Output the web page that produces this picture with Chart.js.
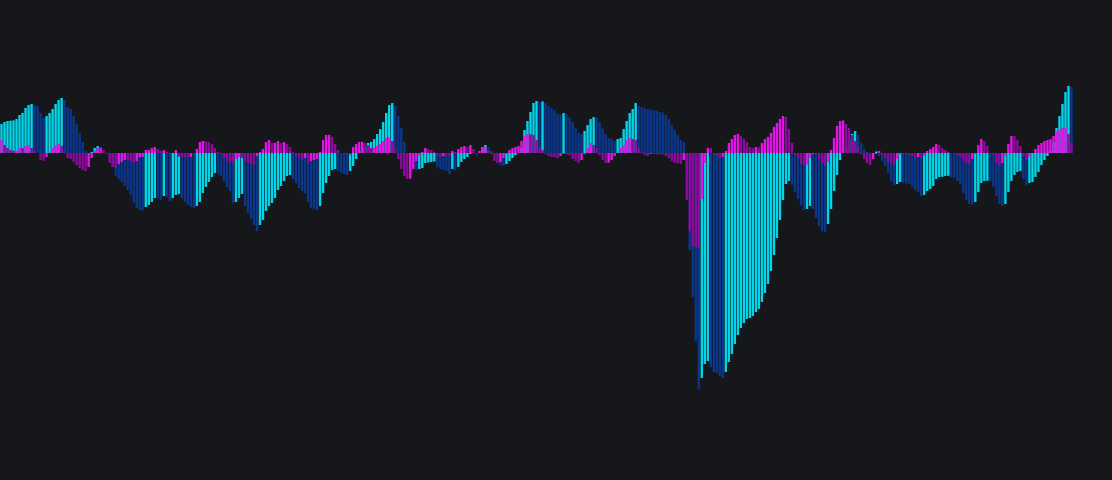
<!DOCTYPE html>
<html><head><meta charset="utf-8">
<script src="https://cdn.jsdelivr.net/npm/chart.js@4.4.1/dist/chart.umd.min.js"></script>
<style>html,body{margin:0;padding:0;background:#15171b;overflow:hidden}#wrap{width:1112px;height:480px;position:relative}</style>
</head><body><div id="wrap"><canvas id="c" width="1112" height="480"></canvas></div>
<script>
// Momentum histogram (cyan when rising, dark blue when falling)
const momentum = [
29,31,32,32.3,32.6,34,38,40,45,48,49,48,47,40,35,37,40,44,49,53,55,53,46,44,37,29,20,11,2,0,1,5,7,6,2,0,
-5,-14,-23,-26,-29,-33,-37,-42,-50,-55,-57,-57.5,-54,-52,-49,-45,-46,-47,-43,-44,-48,
-45,-42,-41,-45,-49,-52,-54,-55,-53,-49,-40,-34,-29,-24,-20,-21,-23,-28,-34,-38,-50,-49,-45,-41,-53,-60,-66,-72,-78,-72,-67,-58,-53,-50,-45,-37,-33,-28,-23,-22,-26,-30,-35,-38,-40,-49,-55,-56,-57,-53,-40,-30,-23,-17,-16,-18,-20,-21,-22,-18,
-13,-6,2,5,8,10,11,14,19,24,31,40,48,50,47,37,25,11,0,-5,-12,-17,-16,-15,-10,-9.5,-9,-8.5,-14,-16,-17,-18,-21,-16,-17,-14,-9,-6,-4,-1,0,-2,0,6,8,6,2,0,-4,-12,-13,-11,
-8,-5,-2,0,5,23,32,41,50,52,51,51.5,50,47,45,43,39,38.5,40,39,36,31,25,20,19,22,28,34,36,35.5,31,25,19,15,14,12,14,15,24,32,40,44,50,47,46,45,44,43.5,43,42.5,41,40.5,38,34,28,23,18,
13,11,-20,-97,-144,-188,-236,-225,-211,-208,-214,-219,-220,-223,-225,-219,-209,-201,-191,-182,-175,-170,-166,-165,-163,-159,-156,-149,-140,-131,-118,-102,-85,-67,-47,-31,-28,-32,-39,-46,-52,-57,-56,-53,-56,-65,-73,-78,-79,-71,-56,-38,-22,-7,0,6,
14,19,22,18,10,4,1,0,-0.5,1.5,-3,-8,-13,-20,-28,-32,-31,-29,-30,-30.5,-31,-34,-37,-39,-43,-42,-38,-36,-33,-26,-24,-23.8,-23,-22.8,-24,-25,-28,-31,-40,-47,-51,-51.5,-49,-39,-30,-28,-27.8,-28.2,-34,-43,-51,-53,-51,-39,-28,-22,-19,-18,-26,-32,-30,-29,-24,-19,-12,-7,-3,2,11,25,37,49,61,67,66
];
// Signal histogram (bright magenta when rising, purple when falling)
const signal = [
13,8,5,3,2,2.2,5,4.8,7,8,5,2,0,-7,-8,-4,0,5,8,9,7,2,-5,-6,-9,-12,-15,-17,-18,-14,-5,2,5,5.2,3,-1,-10,-14,-15,-11,-9,-7,-7.2,-8,-10,-8,-4,-3.8,3,3.2,5,6,4,2,3,1,-1,
0,3,-3.6,-3.8,-4,-4.2,-3.9,0,4,11,12,11.8,11,9,5,1,-1,-5,-9,-9.3,-10,-6,-4,-5,-8,-10,-11,-12,-3,1,4,11,13,10,10.2,12,10,11,9,6,1,-2,-4,-7,-5,-10,-8,-7,-6,1,13,18,18.2,16,9,3,0,-1,-1.2,-1.4,
6,9,11,11.2,10,8,5,5.2,7,9,12,15,15.2,12,4,-6,-16,-23,-26,-25.8,-16,-8,-3,1,5,4,3,1,-3,-4,-3,-3.2,-3.4,2,1,4,6,7,6,8,4,0,2,6,6.2,2,-1,-8,-10,-9,-5,-1,
3,5,6,7,12,17,19,18.8,18,13,6,3,-1,-3,-4,-4.2,-5,-3,-1,-1.2,-2,-6,-8,-10,-7,-1,5,10,8,5,-2,-7,-10,-9.8,-7,-3,0,5,8,13,15,14,13,5,1,-2,-3,-1,-1.1,-1.2,-1.3,-1.4,-3,-5,-8,-10,-10.2,-11,-7,
-47,-78,-93,-94,-94.5,-46,-10,5,4.8,-1,-3,-5,-4,2,10,14,18,19,17,14,11,6,5,6,5.8,10,14,16,20,26,30,34,37,36,24,10,-2,-5,-11,-12,-11.5,-5,-1,-1.5,-6,-11,-13,-9,3,15,27,32,32.5,29,
25,18,12,6,-1,-6,-10,-12,-6,-1,2,-2,-5,-9,-11,-13,-6,-1,-1.2,-1.4,-2,-3,-5,-4,-5,-3,2,4,6,9,8,5,3,1,0,-1,-2,-4,-8,-10,-11,-6,-1,8,14,12,7,0,-2,-10,-13,-10,-3,9,17,16.8,13,7,-3,-7,
-4,0,4,8,10,12,13,14,17,22,23,25,25.5,19,10
];
const categories = momentum.map((_, i) => String(i + 1));

const CYAN = '#00d6ea', DARKBLUE = '#0a368c', MAGENTA = '#e414e8', PURPLE = '#8a0a9c';
function colorFor(arr, up, down) {
  return ctx => {
    const i = ctx.dataIndex;
    const v = arr[i], p = i > 0 ? arr[i - 1] : v;
    return v >= p ? up : down;
  };
}

new Chart(document.getElementById('c').getContext('2d'), {
  type: 'bar',
  data: {
    labels: categories,
    datasets: [
      { label: 'signal', data: signal, backgroundColor: colorFor(signal, MAGENTA, PURPLE),
        grouped: false, barPercentage: 0.8, categoryPercentage: 1, borderWidth: 0 },
      { label: 'momentum', data: momentum, backgroundColor: colorFor(momentum, CYAN, DARKBLUE),
        grouped: false, barPercentage: 0.8, categoryPercentage: 1, borderWidth: 0 }
    ]
  },
  options: {
    responsive: false,
    animation: false,
    devicePixelRatio: 1,
    layout: { padding: { left: 0, right: 39, top: 0, bottom: 0 } },
    plugins: { legend: { display: false }, tooltip: { enabled: false } },
    scales: {
      x: { display: false, offset: true, grid: { display: false } },
      y: { display: false, min: -327, max: 153, grid: { display: false } }
    }
  }
});
</script>
</body></html>
